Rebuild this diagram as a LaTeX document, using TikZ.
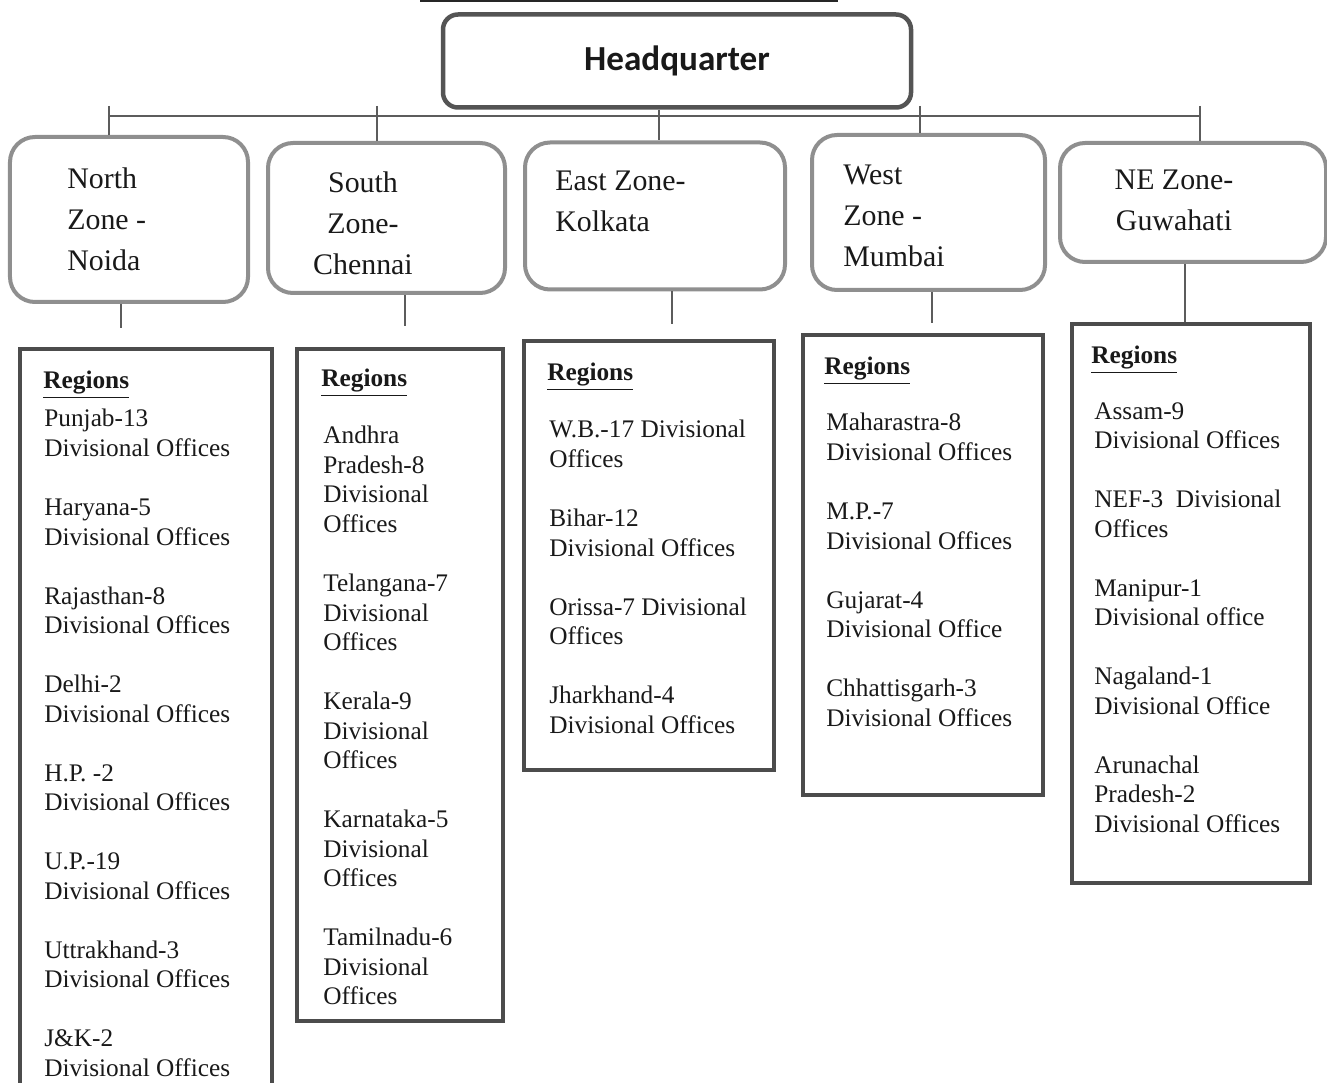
\documentclass[tikz,border=0pt]{standalone}
\usepackage{fontspec}
\setmainfont{Liberation Serif}
\newfontfamily\hqfont{Carlito}
\definecolor{hqclr}{rgb}{0.33, 0.33, 0.33}
\definecolor{zoneclr}{rgb}{0.56, 0.56, 0.56}
\definecolor{regclr}{rgb}{0.30, 0.30, 0.30}
\definecolor{lineclr}{rgb}{0.36, 0.36, 0.36}
\definecolor{txtclr}{rgb}{0.10, 0.10, 0.10}
\newcommand{\regsep}{\\[16.8pt]}
\tikzset{ %
  ,every node/.style={text=txtclr}
  ,hq/.style={draw=hqclr, line width=0.9mm, rounded corners=3mm, minimum width=9.36cm, minimum height=1.86cm, font=\hqfont\bfseries\fontsize{20}{24}\selectfont}
  ,zone/.style={draw=zoneclr, line width=0.8mm, rounded corners=5mm}
  ,zonetxt/.style={inner sep=0, font=\fontsize{17}{23.3}\selectfont}
  ,region/.style={draw=regclr, line width=0.8mm}
  ,reghead/.style={inner sep=0, anchor=base west, font=\bfseries\fontsize{14.4}{16.8}\selectfont}
  ,regtxt/.style={inner sep=0, align=left, anchor=north west, font=\fontsize{14.4}{16.8}\selectfont, execute at begin node=\strut}
  ,link/.style={draw=lineclr, line width=0.4mm}
}
\begin{document}
\begin{tikzpicture}[x=0.2mm, y=-0.2mm]
      \useasboundingbox (0,0) rectangle (1327,1083);
      % cut-off rule above the chart
      \draw[black!85, line width=0.6mm] (420,1) -- (838,1);
      % headquarter and zones
      \node[hq] (hq) at (677,61) {Headquarter};
      \node[zone, minimum width=4.76cm, minimum height=3.3cm] (north) at (129,219.5) {};
      \node[zone, minimum width=4.74cm, minimum height=3.0cm] (south) at (386.5,218) {};
      \node[zone, minimum width=5.2cm, minimum height=2.94cm] (east) at (655,216) {};
      \node[zone, minimum width=4.66cm, minimum height=3.1cm] (west) at (928.5,212.5) {};
      \node[zone, minimum width=5.32cm, minimum height=2.38cm] (ne) at (1193,202.5) {};
      \draw
      node[zonetxt, align=left, anchor=west] (northtxt) at (67,219) {North\\Zone -\\Noida}
      node[zonetxt, align=center] (southtxt) at (363,223) {South\\Zone-\\Chennai}
      node[zonetxt, align=left, anchor=west] (easttxt) at (555,201) {East Zone-\\Kolkata}
      node[zonetxt, align=left, anchor=west] (westtxt) at (843,216) {West\\Zone -\\Mumbai}
      node[zonetxt, align=center] (netxt) at (1174,200) {NE Zone-\\Guwahati};
      % tree lines
      \coordinate (bus) at (0,116);
      \coordinate (tn) at (109,106);
      \coordinate (ts) at (377,106);
      \coordinate (th) at (659,0);
      \coordinate (tw) at (920,106);
      \coordinate (te) at (1200,106);
      \draw[link] (tn |- bus) -- (te |- bus);
      \foreach \t/\z in {tn/north, ts/south, tw/west, te/ne}
        \draw[link] (\t) -- (\t |- \z.north);
      \draw[link] (th |- hq.south) -- (th |- east.north);
      % region boxes
      \node[region, minimum width=5.04cm, minimum height=15.02cm] (r1) at (146,724.5) {};
      \node[region, minimum width=4.12cm, minimum height=13.44cm] (r2) at (400,685) {};
      \node[region, minimum width=5.0cm, minimum height=8.58cm] (r3) at (649,555.5) {};
      \node[region, minimum width=4.8cm, minimum height=9.2cm] (r4) at (923,565) {};
      \node[region, minimum width=4.76cm, minimum height=11.18cm] (r5) at (1191,603.5) {};
      \coordinate (dn) at (121,328);
      \coordinate (ds) at (405,326);
      \coordinate (de) at (672,324);
      \coordinate (dw) at (932,323);
      \coordinate (dne) at (1185,0);
      \draw[link] (dn |- north.south) -- (dn);
      \draw[link] (ds |- south.south) -- (ds);
      \draw[link] (de |- east.south) -- (de);
      \draw[link] (dw |- west.south) -- (dw);
      \draw[link] (dne |- ne.south) -- (dne |- r5.north);
      % region lists
      \node[reghead] (r1head) at (43,389) {\underline{Regions}};
      \node[regtxt] (r1list) at (44,409) {Punjab-13\\Divisional Offices\regsep
        Haryana-5\\Divisional Offices\regsep Rajasthan-8\\Divisional Offices\regsep
        Delhi-2\\Divisional Offices\regsep H.P. -2\\Divisional Offices\regsep
        U.P.-19\\Divisional Offices\regsep Uttrakhand-3\\Divisional Offices\regsep
        J\&K-2\\Divisional Offices};
      \node[reghead] (r2head) at (321,387) {\underline{Regions}};
      \node[regtxt] (r2list) at (323,426) {Andhra\\Pradesh-8\\Divisional\\Offices\regsep
        Telangana-7\\Divisional\\Offices\regsep Kerala-9\\Divisional\\Offices\regsep
        Karnataka-5\\Divisional\\Offices\regsep Tamilnadu-6\\Divisional\\Offices};
      \node[reghead] (r3head) at (547,381) {\underline{Regions}};
      \node[regtxt] (r3list) at (549,420) {W.B.-17 Divisional\\Offices\regsep
        Bihar-12\\Divisional Offices\regsep Orissa-7 Divisional\\Offices\regsep
        Jharkhand-4\\Divisional Offices};
      \node[reghead] (r4head) at (824,375) {\underline{Regions}};
      \node[regtxt] (r4list) at (826,413) {Maharastra-8\\Divisional Offices\regsep
        M.P.-7\\Divisional Offices\regsep Gujarat-4\\Divisional Office\regsep
        Chhattisgarh-3\\Divisional Offices};
      \node[reghead] (r5head) at (1091,364) {\underline{Regions}};
      \node[regtxt] (r5list) at (1094,402) {Assam-9\\Divisional Offices\regsep
        NEF-3~ Divisional\\Offices\regsep Manipur-1\\Divisional office\regsep
        Nagaland-1\\Divisional Office\regsep Arunachal\\Pradesh-2\\Divisional Offices};
\end{tikzpicture}
\end{document}
